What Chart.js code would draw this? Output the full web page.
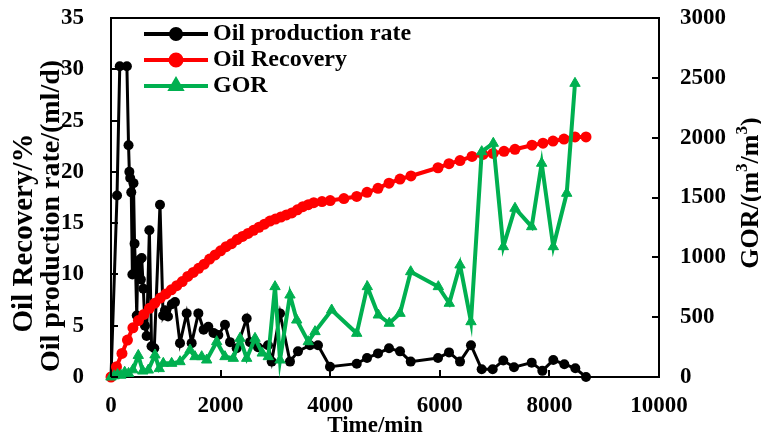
<!DOCTYPE html>
<html>
<head>
<meta charset="utf-8">
<script src="https://cdn.jsdelivr.net/npm/chart.js@4.4.1/dist/chart.umd.min.js"></script>
<style>
  html, body { margin: 0; padding: 0; background: #fff; }
  #wrap { width: 761px; height: 436px; }
</style>
</head>
<body>
<div id="wrap"><canvas id="c" width="761" height="436"></canvas></div>
<script>
// Oil production rate (ml/d) versus time (min)
const rateTime = [0, 110, 160, 290, 320, 335, 350, 370, 390, 410, 430, 450, 470, 490, 520, 545, 560, 590, 620, 650, 700, 740, 790, 894, 950, 985, 1040, 1110, 1168, 1259, 1381, 1472, 1594, 1690, 1776, 1870, 1958, 2080, 2172, 2293, 2476, 2536, 2682, 2865, 2932, 3084, 3266, 3412, 3631, 3777, 3996, 4484, 4672, 4872, 5073, 5274, 5469, 5967, 6168, 6369, 6569, 6764, 6965, 7159, 7354, 7677, 7871, 8071, 8272, 8473, 8668];
const rateValues = [0, 17.7, 30.3, 30.3, 22.6, 20.0, 19.4, 18.0, 10.0, 18.9, 13.0, 10.2, 6.0, 11.2, 11.4, 9.5, 11.6, 8.6, 5.0, 4.0, 14.3, 3.0, 2.8, 16.8, 6.0, 6.5, 5.9, 7.1, 7.3, 3.3, 6.2, 3.3, 6.2, 4.6, 4.9, 4.3, 4.1, 5.1, 3.4, 2.8, 5.7, 3.4, 2.9, 3.1, 1.5, 6.2, 1.5, 2.5, 3.1, 3.1, 1.0, 1.3, 1.85, 2.3, 2.8, 2.5, 1.5, 1.85, 2.4, 1.5, 3.1, 0.75, 0.75, 1.6, 0.95, 1.4, 0.6, 1.65, 1.25, 0.85, 0.0];

// Cumulative oil recovery (%)
const recTime = [0, 100, 200, 300, 400, 500, 600, 700, 800, 900, 1000, 1100, 1200, 1300, 1400, 1500, 1600, 1700, 1800, 1900, 2000, 2100, 2200, 2300, 2400, 2500, 2600, 2700, 2800, 2900, 3000, 3100, 3200, 3300, 3400, 3500, 3600, 3700, 3850, 4000, 4250, 4484, 4672, 4872, 5073, 5274, 5474, 5967, 6168, 6369, 6588, 6788, 6971, 7172, 7372, 7682, 7883, 8066, 8266, 8467, 8668];
const recValues = [0, 1.0, 2.3, 3.6, 4.8, 5.5, 6.1, 6.7, 7.2, 7.7, 8.1, 8.5, 8.9, 9.3, 9.8, 10.2, 10.6, 11.0, 11.5, 11.9, 12.3, 12.7, 13.0, 13.4, 13.7, 14.0, 14.3, 14.6, 14.9, 15.2, 15.4, 15.6, 15.8, 16.0, 16.3, 16.6, 16.8, 17.0, 17.1, 17.2, 17.4, 17.6, 18.0, 18.4, 18.9, 19.3, 19.6, 20.4, 20.8, 21.1, 21.5, 21.7, 21.8, 22.0, 22.2, 22.6, 22.8, 23.0, 23.2, 23.4, 23.4];

// Gas-oil ratio (m3/m3)
const gorTime = [0, 60, 120, 180, 250, 320, 400, 498, 580, 681, 803, 880, 954, 1107, 1259, 1442, 1533, 1655, 1746, 1929, 2080, 2232, 2354, 2476, 2628, 2760, 2870, 2993, 3084, 3266, 3389, 3600, 3723, 4027, 4484, 4677, 4878, 5078, 5274, 5469, 5973, 6173, 6369, 6569, 6765, 6976, 7159, 7372, 7677, 7859, 8071, 8316, 8467];
const gorValues = [0, 10, 20, 15, 40, 30, 60, 180, 50, 58, 184, 70, 114, 114, 128, 226, 170, 170, 142, 295, 170, 156, 323, 156, 323, 200, 170, 755, 142, 685, 476, 295, 379, 560, 365, 755, 518, 449, 532, 880, 755, 616, 936, 462, 1883, 1953, 1089, 1410, 1256, 1786, 1089, 1535, 2454];

// Axis tick settings
const timeTicks = { min: 0, max: 10000, step: 2000 };
const leftTicks = { min: 0, max: 35, step: 5 };
const rightTicks = { min: 0, max: 3000, step: 500 };

const FONT = '"Liberation Serif", "Times New Roman", serif';
const BLACK = '#000000', RED = '#ff0000', GREEN = '#00b050';

const pairs = (xs, ys) => xs.map((x, i) => ({ x: x, y: ys[i] }));
const plain = v => String(v);

// Inward tick marks, top border, axis titles and legend
const framePlugin = {
  id: 'frame',
  afterDraw(chart) {
    const ctx = chart.ctx;
    const a = chart.chartArea;
    const sx = chart.scales.x, sy = chart.scales.y, sy1 = chart.scales.y1;
    const len = 7;
    ctx.save();
    ctx.strokeStyle = '#000';
    ctx.lineWidth = 2;
    ctx.beginPath();
    ctx.moveTo(a.left - 1, a.top); ctx.lineTo(a.right + 1, a.top);
    sx.ticks.forEach(t => { const p = Math.round(sx.getPixelForValue(t.value)); ctx.moveTo(p, a.bottom); ctx.lineTo(p, a.bottom - len); });
    sy.ticks.forEach(t => { const p = Math.round(sy.getPixelForValue(t.value)); ctx.moveTo(a.left, p); ctx.lineTo(a.left + len, p); });
    sy1.ticks.forEach(t => { const p = Math.round(sy1.getPixelForValue(t.value)); ctx.moveTo(a.right, p); ctx.lineTo(a.right - len, p); });
    ctx.stroke();

    ctx.fillStyle = '#000';
    ctx.font = 'bold 23px ' + FONT;
    ctx.textAlign = 'center';
    ctx.textBaseline = 'middle';
    ctx.fillText('Time/min', (a.left + a.right) / 2 - 10, 426);

    // left titles (two lines, rotated)
    ctx.save();
    ctx.translate(25, 233);
    ctx.rotate(-Math.PI / 2);
    ctx.font = 'bold 29px ' + FONT;
    ctx.fillText('Oil Recovery/%', 0, 0);
    ctx.restore();
    ctx.save();
    ctx.translate(52, 216);
    ctx.rotate(-Math.PI / 2);
    ctx.font = 'bold 28px ' + FONT;
    ctx.fillText('Oil production rate/(ml/d)', 0, 0);
    ctx.restore();

    // right title with superscripts
    ctx.save();
    ctx.translate(751, 193);
    ctx.rotate(-Math.PI / 2);
    const big = 'bold 26px ' + FONT, small = 'bold 17px ' + FONT;
    const parts = [['GOR/(m', big, 0], ['3', small, -8], ['/m', big, 0], ['3', small, -8], [')', big, 0]];
    let total = 0;
    parts.forEach(p => { ctx.font = p[1]; total += ctx.measureText(p[0]).width; });
    let x = -total / 2;
    ctx.textAlign = 'left';
    parts.forEach(p => { ctx.font = p[1]; ctx.fillText(p[0], x, p[2]); x += ctx.measureText(p[0]).width; });
    ctx.restore();

    // legend
    const items = [
      { label: 'Oil production rate', color: BLACK, style: 'circle', r: 5 },
      { label: 'Oil Recovery', color: RED, style: 'circle', r: 5.5 },
      { label: 'GOR', color: GREEN, style: 'triangle', r: 6 }
    ];
    ctx.font = 'bold 24px ' + FONT;
    ctx.textAlign = 'left';
    items.forEach((it, i) => {
      const y = 34 + i * 26;
      ctx.strokeStyle = it.color; ctx.fillStyle = it.color; ctx.lineWidth = 4;
      ctx.beginPath(); ctx.moveTo(144, y); ctx.lineTo(208, y); ctx.stroke();
      Chart.helpers.drawPoint(ctx, { pointStyle: it.style, radius: it.r, borderWidth: 1 }, 176, y);
      ctx.fillStyle = '#000';
      ctx.fillText(it.label, 213, y);
    });
    ctx.restore();
  }
};

const tickFont = { family: FONT, size: 23, weight: 'bold' };
const noPad = s => { s.paddingTop = 0; s.paddingBottom = 0; s.paddingLeft = 0; s.paddingRight = 0; };

new Chart(document.getElementById('c'), {
  type: 'line',
  data: {
    datasets: [
      {
        label: 'GOR', yAxisID: 'y1', data: pairs(gorTime, gorValues),
        borderColor: GREEN, backgroundColor: GREEN, borderWidth: 4,
        pointStyle: 'triangle', pointRadius: 6, pointBorderWidth: 1, tension: 0, clip: false
      },
      {
        label: 'Oil Recovery', yAxisID: 'y', data: pairs(recTime, recValues),
        borderColor: RED, backgroundColor: RED, borderWidth: 4,
        pointStyle: 'circle', pointRadius: 5.5, pointBorderWidth: 0, tension: 0, clip: false
      },
      {
        label: 'Oil production rate', yAxisID: 'y', data: pairs(rateTime, rateValues),
        borderColor: BLACK, backgroundColor: BLACK, borderWidth: 3,
        pointStyle: 'circle', pointRadius: 5, pointBorderWidth: 0, tension: 0, clip: false
      }
    ]
  },
  options: {
    responsive: false,
    animation: false,
    events: [],
    layout: { padding: { top: 18, left: 0, right: 0, bottom: 0 } },
    plugins: { legend: { display: false }, tooltip: { enabled: false } },
    scales: {
      x: {
        type: 'linear', position: 'bottom', min: timeTicks.min, max: timeTicks.max,
        ticks: { stepSize: timeTicks.step, font: tickFont, color: '#000', padding: 15, maxRotation: 0, callback: plain },
        grid: { display: false, drawTicks: false, tickLength: 0 },
        border: { display: true, color: '#000', width: 2 },
        afterFit: s => { s.height = 59; noPad(s); }
      },
      y: {
        type: 'linear', position: 'left', min: leftTicks.min, max: leftTicks.max,
        ticks: { stepSize: leftTicks.step, font: tickFont, color: '#000', padding: 27, callback: plain },
        grid: { display: false, drawTicks: false, tickLength: 0 },
        border: { display: true, color: '#000', width: 2 },
        afterFit: s => { s.width = 111; noPad(s); }
      },
      y1: {
        type: 'linear', position: 'right', min: rightTicks.min, max: rightTicks.max,
        ticks: { stepSize: rightTicks.step, font: tickFont, color: '#000', padding: 21, callback: plain },
        grid: { display: false, drawTicks: false, tickLength: 0 },
        border: { display: true, color: '#000', width: 2 },
        afterFit: s => { s.width = 102; noPad(s); }
      }
    }
  },
  plugins: [framePlugin]
});
</script>
</body>
</html>
